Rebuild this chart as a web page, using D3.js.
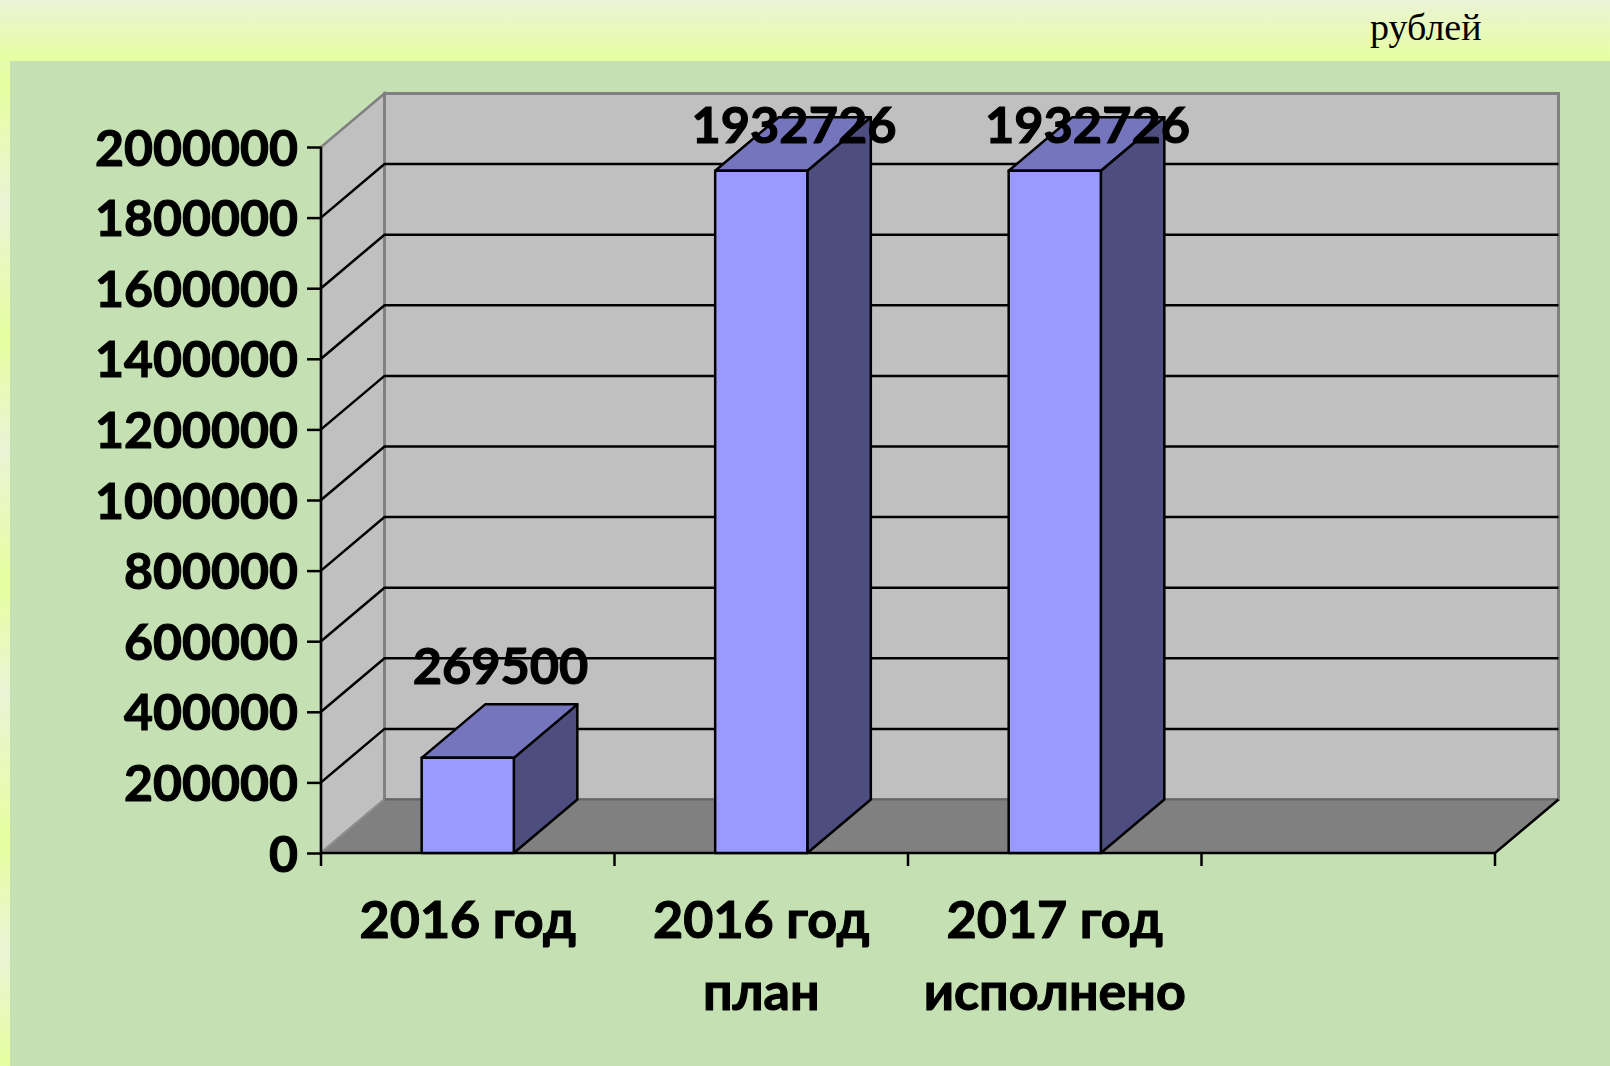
<!DOCTYPE html>
<html>
<head>
<meta charset="utf-8">
<script src="https://cdn.jsdelivr.net/npm/d3@7"></script>
<style>
html, body { margin: 0; padding: 0; background: #c5e0b3; overflow: hidden; }
svg { display: block; }
text { font-family: Lato, "Open Sans", sans-serif; font-weight: 700; fill: #000; stroke: #000; stroke-width: 1.1px; }
</style>
</head>
<body>
<script>
//CHART VALUES
const categories = ["a", "b", "c", "d"]
const categoryLines = [["2016 год"], ["2016 год", "план"], ["2017 год", "исполнено"], []]
const barCategories = ["a", "b", "c"]
const barValues = [269500, 1932726, 1932726]
const yTicks = [0, 200000, 400000, 600000, 800000, 1000000, 1200000, 1400000, 1600000, 1800000, 2000000]
const unitLabel = "рублей"

//USEFUL VARIABLES
const svgwidth = 1610
const svgheight = 1066
const plot = { left: 321, right: 1495, top: 147, bottom: 853 }
const depth = { x: 63.5, y: -53.5 } //HOW FAR THE BACK WALL SITS FROM THE FRONT
const labelTop = 143 //DATA LABELS STOP HERE AT THE TOP OF THE PLOT
const lineWidth = 2.5

const svg = d3.select("body").append("svg")
    .attr("width", svgwidth)
    .attr("height", svgheight)

//BACKGROUND GRADIENTS
const defs = svg.append("defs")
const pale = "#eaf3d6", yellow = "#e6ffa0"
const topBand = defs.append("linearGradient").attr("id", "topBand")
    .attr("x1", 0).attr("x2", 0).attr("y1", 0).attr("y2", 1)
topBand.append("stop").attr("offset", 0).attr("stop-color", pale)
topBand.append("stop").attr("offset", 1).attr("stop-color", yellow)
const strip = defs.append("linearGradient").attr("id", "strip")
    .attr("x1", 0).attr("x2", 0).attr("y1", 0).attr("y2", 1)
const stripStops = [[0, pale], [85, yellow], [204, pale], [340, yellow], [449, pale], [585, yellow], [694, pale], [843, yellow], [952, pale], [1066, yellow]]
stripStops.forEach(d => strip.append("stop").attr("offset", d[0] / svgheight).attr("stop-color", d[1]))

svg.append("rect").attr("width", svgwidth).attr("height", svgheight).attr("fill", "#c5e0b3")
svg.append("rect").attr("width", 10).attr("height", svgheight).attr("fill", "url(#strip)")
svg.append("rect").attr("width", svgwidth).attr("height", 61).attr("fill", "url(#topBand)")

//DEFINING SCALES
const Y = d3.scaleLinear().domain([0, 2000000]).range([plot.bottom, plot.top])
const X = d3.scaleBand().domain(categories).range([plot.left, plot.right])
const barWidth = X.bandwidth() * 0.314

const pts = a => a.map(p => p.join(",")).join(" ")
const back = (x, y) => [x + depth.x, y + depth.y]

//WALLS AND FLOOR
const y0 = Y(0), yMax = Y(2000000)
svg.append("polygon")
    .attr("points", pts([[plot.left, y0], back(plot.left, y0), back(plot.left, yMax), [plot.left, yMax]]))
    .attr("fill", "#c0c0c0").attr("stroke", "#808080").attr("stroke-width", 2.5)
svg.append("rect")
    .attr("x", plot.left + depth.x).attr("y", yMax + depth.y)
    .attr("width", plot.right - plot.left).attr("height", y0 - yMax)
    .attr("fill", "#c0c0c0").attr("stroke", "#808080").attr("stroke-width", 3)
svg.append("polygon")
    .attr("points", pts([[plot.left, y0], back(plot.left, y0), back(plot.right, y0), [plot.right, y0]]))
    .attr("fill", "#808080")
svg.append("line")
    .attr("x1", plot.left + depth.x).attr("x2", plot.right + depth.x)
    .attr("y1", y0 + depth.y).attr("y2", y0 + depth.y)
    .attr("stroke", "#666").attr("stroke-width", 2)
svg.append("line")
    .attr("x1", plot.left).attr("y1", y0)
    .attr("x2", plot.left + depth.x).attr("y2", y0 + depth.y)
    .attr("stroke", "#999").attr("stroke-width", 1)

//GRIDLINES
const gridTicks = yTicks.filter(d => d > 0 && d < 2000000)
const grid = svg.append("g").classed("grid", true)
    .attr("fill", "none").attr("stroke", "#000").attr("stroke-width", lineWidth)
grid.selectAll("polyline").data(gridTicks).enter().append("polyline")
    .attr("points", d => pts([[plot.left, Y(d)], back(plot.left, Y(d)), back(plot.right, Y(d))]))

//FRONT EDGES
svg.append("polyline")
    .attr("points", pts([[plot.left, yMax], [plot.left, y0], [plot.right, y0], back(plot.right, y0)]))
    .attr("fill", "none").attr("stroke", "#000").attr("stroke-width", lineWidth)

//ADDING AXIS
const yaxis = svg.append("g")
    .attr("transform", `translate(${plot.left}, 0)`)
    .call(d3.axisLeft(Y).tickValues(yTicks).tickFormat(d3.format("d")).tickSize(14).tickPadding(9))
yaxis.select(".domain").remove()
yaxis.selectAll("line").attr("stroke", "#000").attr("stroke-width", lineWidth)
yaxis.selectAll("text").attr("font-size", 50).attr("dy", "0.36em")

const xticks = categories.map(d => X(d)).concat([plot.right])
svg.append("g").selectAll("line").data(xticks).enter().append("line")
    .attr("x1", d => d).attr("x2", d => d)
    .attr("y1", y0).attr("y2", y0 + 13)
    .attr("stroke", "#000").attr("stroke-width", lineWidth)

const xlabels = svg.append("g").selectAll("text").data(categories).enter().append("text")
    .attr("text-anchor", "middle")
    .attr("font-size", 52)
xlabels.selectAll("tspan").data((d, i) => categoryLines[i]).enter().append("tspan")
    .attr("x", function () { return X(d3.select(this.parentNode).datum()) + X.bandwidth() / 2 })
    .attr("y", (d, i) => 938 + i * 72)
    .text(d => d)

//BARS
const bars = svg.selectAll(".bar")
    .data(barCategories.map((c, i) => ({ c, v: barValues[i] })))
    .enter().append("g").classed("bar", true)
    .attr("stroke", "#000").attr("stroke-width", lineWidth).attr("stroke-linejoin", "round")
const bx = d => X(d.c) + (X.bandwidth() - barWidth) / 2
bars.append("polygon").attr("fill", "#4d4d80")
    .attr("points", d => {
        const r = bx(d) + barWidth
        return pts([[r, y0], back(r, y0), back(r, Y(d.v)), [r, Y(d.v)]])
    })
bars.append("polygon").attr("fill", "#7575be")
    .attr("points", d => {
        const l = bx(d), r = l + barWidth, t = Y(d.v)
        return pts([[l, t], back(l, t), back(r, t), [r, t]])
    })
bars.append("rect").attr("fill", "#9999ff")
    .attr("x", bx).attr("y", d => Y(d.v))
    .attr("width", barWidth).attr("height", d => y0 - Y(d.v))

//DATA LABELS
svg.append("g").selectAll("text")
    .data(barCategories.map((c, i) => ({ c, v: barValues[i] })))
    .enter().append("text")
    .attr("text-anchor", "middle")
    .attr("font-size", 50.5)
    .attr("x", d => bx(d) + barWidth / 2 + depth.x / 2 + 1)
    .attr("y", d => Math.max(labelTop, Y(d.v) + depth.y - 20))
    .text(d => d.v)

//UNIT NOTE
svg.append("text")
    .attr("x", 1370).attr("y", 40)
    .style("font-family", '"Liberation Serif", serif')
    .style("font-weight", 400)
    .style("stroke", "none")
    .attr("font-size", 38)
    .text(unitLabel)
</script>
</body>
</html>
